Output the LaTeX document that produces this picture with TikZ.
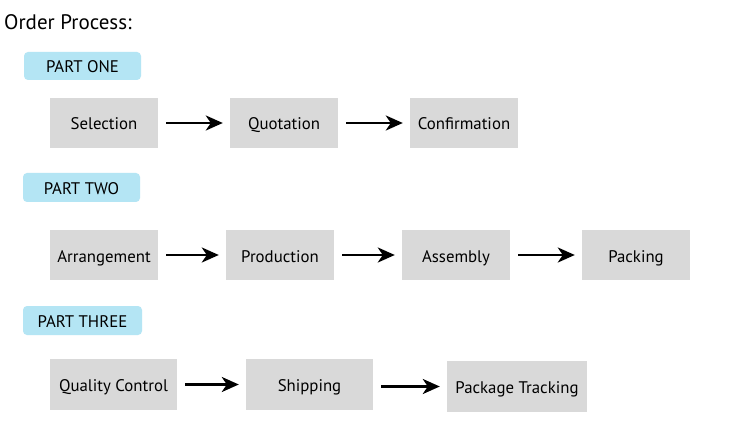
\documentclass[tikz,border=0pt]{standalone}
\usepackage{fontspec}
\setmainfont{PT Sans}
\usetikzlibrary{arrows.meta}
\definecolor{boxgray}{HTML}{D9D9D9}
\definecolor{pillblue}{HTML}{B4E5F4}
\tikzset{
  stepbox/.style={fill=boxgray, draw=none, inner sep=0pt, text height=14pt, text depth=0pt, font=\fontsize{16.8}{20}\selectfont},
  pill/.style={fill=pillblue, draw=none, rounded corners=4pt, inner sep=0pt, text height=14pt, text depth=0pt, font=\fontsize{16.8}{20}\selectfont},
  flow/.style={-{Stealth[length=17pt,width=15pt,inset=5pt]}, line width=2.6pt, black, shorten >=7pt, shorten <=8pt}
}
\newcommand{\bx}[6]{\node[stepbox, minimum width=#4-#2, minimum height=#5-#3] (#1) at ({(#2+#4)/2},{(#3+#5)/2}) {#6};}
\newcommand{\pl}[6]{\node[pill, minimum width=#4-#2, minimum height=#5-#3] (#1) at ({(#2+#4)/2},{(#3+#5)/2}) {#6};}
\begin{document}
\begin{tikzpicture}[x=1pt,y=-1pt]
\useasboundingbox (0,0) rectangle (750,422);
\fill[white] (0,0) rectangle (750,422);
\node[anchor=base west, inner sep=0pt, font=\fontsize{21}{24}\selectfont] (title) at (4,30) {Order Process:};
% part one
\pl{p1}{24}{52}{141}{80}{PART ONE}
\bx{sel}{50}{98}{158}{148}{Selection}
\bx{quo}{230}{98}{338}{148}{Quotation}
\bx{con}{410}{98}{518}{148}{Confirmation}
\draw[flow] (sel) -- (quo);
\draw[flow] (quo) -- (con);
% part two
\pl{p2}{23}{173}{140}{202}{PART TWO}
\bx{arr}{50}{230}{158}{280}{Arrangement}
\bx{pro}{226}{230}{334}{280}{Production}
\bx{ass}{402}{230}{510}{280}{Assembly}
\bx{pac}{582}{230}{690}{280}{Packing}
\draw[flow] (arr) -- (pro);
\draw[flow] (pro) -- (ass);
\draw[flow] (ass) -- (pac);
% part three
\pl{p3}{23}{306}{142}{335}{PART THREE}
\bx{qc}{50}{359}{177}{410}{Quality Control}
\bx{shi}{246}{359}{373}{410}{Shipping}
\bx{pt}{447}{361}{587}{412}{Package Tracking}
\draw[flow] (qc) -- (shi);
\draw[flow] (pt.west -| shi.east) -- (pt.west);
\end{tikzpicture}
\end{document}
